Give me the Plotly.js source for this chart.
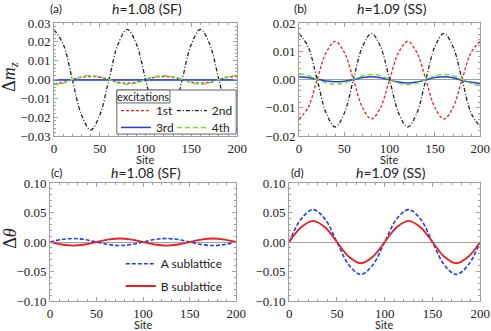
<!DOCTYPE html>
<html>
<head>
<meta charset="utf-8">
<script src="https://cdn.plot.ly/plotly-3.0.1.min.js"></script>
<style>
  body { margin: 0; background: #fff; }
  #chart { width: 491px; height: 331px; }
</style>
</head>
<body>
<div id="chart"></div>
<script>
// sites sampled for the magnetization panels
var siteAB = [0,10,20,30,40,50,60,70,80,90,100,110,120,130,140,150,160,170,180,190,200];

// (a) h=1.08 (SF)
var a1st = [-0.0022,-0.0016,0,0.0012,0.0016,0.0012,0,-0.0014,-0.0019,-0.0014,0,0.0012,0.0016,0.0012,0,-0.0014,-0.0019,-0.0014,0,0.0012,0.0016];
var a2nd = [0.0265,0.0188,0,-0.0188,-0.0268,-0.0188,0,0.0188,0.0266,0.0188,0,-0.0188,-0.0268,-0.0188,0,0.0188,0.0266,0.0188,0,-0.0188,-0.0268];
var a3rd = [-0.0003,-0.0003,-0.0003,-0.0003,-0.0003,-0.0003,-0.0003,-0.0003,-0.0003,-0.0003,-0.0003,-0.0003,-0.0003,-0.0003,-0.0003,-0.0003,-0.0003,-0.0003,-0.0003,-0.0003,-0.0003];
var a4th = [-0.0028,-0.002,0,0.0015,0.0021,0.0015,0,-0.0018,-0.0025,-0.0018,0,0.0015,0.0021,0.0015,0,-0.0018,-0.0025,-0.0018,0,0.0015,0.0021];

// (b) h=1.09 (SS)
var b1st = [-0.014,-0.0099,0,0.0096,0.0135,0.0096,0,-0.0099,-0.014,-0.0099,0,0.0096,0.0135,0.0096,0,-0.0099,-0.014,-0.0099,0,0.0096,0.0135];
var b2nd = [0.0163,0.0116,0,-0.0119,-0.0168,-0.0119,0,0.0116,0.0163,0.0116,0,-0.0119,-0.0168,-0.0119,0,0.0116,0.0163,0.0116,0,-0.0119,-0.0168];
var b3rd = [0.001,0.0007,0.0001,-0.0005,-0.0008,-0.0006,0,0.0007,0.001,0.0006,-0.0002,-0.0009,-0.0012,-0.0009,-0.0001,0.0007,0.001,0.0006,-0.0003,-0.001,-0.0014];
var b4th = [0.002,0.0014,0,-0.0012,-0.0017,-0.0012,0,0.0013,0.0018,0.0013,0,-0.0013,-0.0018,-0.0013,0,0.0013,0.0018,0.0013,0,-0.0014,-0.0021];

// sites sampled for the angle panels
var siteCD = [0,12.5,25,37.5,50,62.5,75,87.5,100,112.5,125,137.5,150,162.5,175,187.5,200];
var cA = [0,0.0042,0.006,0.0042,0,-0.0042,-0.006,-0.0042,0,0.0042,0.006,0.0042,0,-0.0042,-0.006,-0.0042,0];
var cB = [0,-0.0042,-0.006,-0.0042,0,0.0042,0.006,0.0042,0,-0.0042,-0.006,-0.0042,0,0.0042,0.006,0.0042,0];
var dA = [0,0.039,0.055,0.039,0,-0.039,-0.055,-0.039,0,0.039,0.055,0.039,0,-0.039,-0.055,-0.039,0];
var dB = [0,0.025,0.036,0.025,0,-0.025,-0.036,-0.025,0,0.025,0.036,0.025,0,-0.025,-0.036,-0.025,0];

var red = 'rgb(235,30,35)', black = '#222', blue = 'rgb(30,60,235)', green = 'rgb(110,225,40)';
var exNames = ['1st', '2nd', '3rd', '4th'];
var exStyle = [
  {color: red, dash: '3px,2px', width: 1.3},
  {color: black, dash: '4px,2px,1px,2px', width: 1.3},
  {color: blue, dash: 'solid', width: 1.5},
  {color: green, dash: '5px,3px', width: 1.5}
];
// one single-entry legend per excitation so the 2x2 grid can be placed freely
var exLegend = ['legend', 'legend2', 'legend3', 'legend4'];

var data = [];
[a1st, a2nd, a3rd, a4th].forEach(function (ys, i) {
  data.push({x: siteAB, y: ys, xaxis: 'x', yaxis: 'y', mode: 'lines', name: exNames[i],
    legend: exLegend[i], line: Object.assign({shape: 'spline'}, exStyle[i])});
});
[b1st, b2nd, b3rd, b4th].forEach(function (ys, i) {
  data.push({x: siteAB, y: ys, xaxis: 'x2', yaxis: 'y2', mode: 'lines', name: exNames[i],
    showlegend: false, line: Object.assign({shape: 'spline'}, exStyle[i])});
});
data.push({x: siteCD, y: cA, xaxis: 'x3', yaxis: 'y3', mode: 'lines', name: 'A sublattice', legend: 'legend5',
  line: {color: blue, dash: '4px,2px', width: 1.6, shape: 'spline'}});
data.push({x: siteCD, y: cB, xaxis: 'x3', yaxis: 'y3', mode: 'lines', name: 'B sublattice', legend: 'legend6',
  line: {color: red, width: 1.8, shape: 'spline'}});
data.push({x: siteCD, y: dA, xaxis: 'x4', yaxis: 'y4', mode: 'lines', showlegend: false,
  line: {color: blue, dash: '4px,2px', width: 1.6, shape: 'spline'}});
data.push({x: siteCD, y: dB, xaxis: 'x4', yaxis: 'y4', mode: 'lines', showlegend: false,
  line: {color: red, width: 1.8, shape: 'spline'}});

var frame = '#a0a0a0';
var numFont = {family: 'Liberation Serif, Times New Roman, serif', size: 13, color: '#222'};
var sansFont = {family: 'Lato', size: 12, color: '#222'};

function xAx(dom, anchor) {
  return {domain: dom, anchor: anchor, range: [0, 200], dtick: 50, showgrid: false, zeroline: false,
    showline: true, mirror: 'ticks', linecolor: frame, linewidth: 1,
    ticks: 'inside', ticklen: 4, tickcolor: frame, tickfont: numFont,
    minor: {ticks: 'inside', ticklen: 2, tickcolor: frame, dtick: 10}};
}
function yAx(dom, anchor, lim, step, mstep) {
  return {domain: dom, anchor: anchor, range: [-lim, lim], dtick: step, tickformat: '.2f',
    showgrid: false, zeroline: true, zerolinecolor: frame, zerolinewidth: 1,
    showline: true, mirror: 'ticks', linecolor: frame, linewidth: 1,
    ticks: 'inside', ticklen: 4, tickcolor: frame, tickfont: numFont,
    minor: {ticks: 'inside', ticklen: 2, tickcolor: frame, dtick: mstep}};
}

function note(text, x, y, opts) {
  return Object.assign({text: text, x: x, y: y, xref: 'paper', yref: 'paper', showarrow: false,
    xanchor: 'center', yanchor: 'middle', font: sansFont}, opts || {});
}
var titleFont = {family: 'Lato', size: 14, color: '#222'};
var siteFont = {family: 'Lato', size: 11, color: '#222'};
var boxFont = {family: 'Lato', size: 11, color: '#222'};
var bigFont = {family: 'Liberation Serif, Times New Roman, serif', size: 18, color: '#222'};

var legendBase = {orientation: 'v', bgcolor: 'rgba(0,0,0,0)', borderwidth: 0, font: sansFont,
  xanchor: 'left', yanchor: 'middle', itemwidth: 30};
function leg(x, y) { return Object.assign({}, legendBase, {x: x, y: y}); }

var layout = {
  width: 491, height: 331,
  margin: {l: 0, r: 0, t: 0, b: 0},
  paper_bgcolor: '#fff', plot_bgcolor: '#fff',
  font: numFont,
  xaxis: xAx([0.110, 0.483], 'y'),
  yaxis: yAx([0.589, 0.9305], 'x', 0.03, 0.01, 0.002),
  xaxis2: xAx([0.609, 0.978], 'y2'),
  yaxis2: yAx([0.589, 0.9305], 'x2', 0.02, 0.01, 0.002),
  xaxis3: xAx([0.102, 0.481], 'y3'),
  yaxis3: yAx([0.0906, 0.447], 'x3', 0.10, 0.05, 0.01),
  xaxis4: xAx([0.589, 0.978], 'y4'),
  yaxis4: yAx([0.0906, 0.447], 'x4', 0.10, 0.05, 0.01),
  legend: leg(0.236, 0.666),
  legend2: leg(0.350, 0.666),
  legend3: leg(0.236, 0.615),
  legend4: leg(0.350, 0.615),
  legend5: leg(0.246, 0.203),
  legend6: leg(0.246, 0.136),
  shapes: [
    {type: 'rect', xref: 'paper', yref: 'paper', x0: 0.238, x1: 0.481, y0: 0.595, y1: 0.728,
      fillcolor: '#fff', line: {color: '#666', width: 1}, layer: 'above'},
    {type: 'rect', xref: 'paper', yref: 'paper', x0: 0.238, x1: 0.346, y0: 0.689, y1: 0.728,
      fillcolor: '#fff', line: {color: '#666', width: 1}, layer: 'above'}
  ],
  annotations: [
    note('(a)', 0.114, 0.973),
    note('<i>h</i>=1.08 (SF)', 0.299, 0.973, {font: titleFont}),
    note('(b)', 0.611, 0.973),
    note('<i>h</i>=1.09 (SS)', 0.798, 0.973, {font: titleFont}),
    note('(c)', 0.116, 0.479),
    note('<i>h</i>=1.08 (SF)', 0.297, 0.479, {font: titleFont}),
    note('(d)', 0.605, 0.479),
    note('<i>h</i>=1.09 (SS)', 0.796, 0.479, {font: titleFont}),
    note('Site', 0.296, 0.519, {font: siteFont}),
    note('Site', 0.793, 0.519, {font: siteFont}),
    note('Site', 0.291, 0.021, {font: siteFont}),
    note('Site', 0.783, 0.021, {font: siteFont}),
    note('Δ<i>m</i><sub><i>z</i></sub>', 0.02, 0.767, {textangle: -90, font: bigFont}),
    note('Δ<i>θ</i>', 0.02, 0.281, {textangle: -90, font: bigFont}),
    note('excitations', 0.292, 0.709, {font: boxFont})
  ]
};

Plotly.newPlot('chart', data, layout, {displayModeBar: false, staticPlot: true});
</script>
</body>
</html>
